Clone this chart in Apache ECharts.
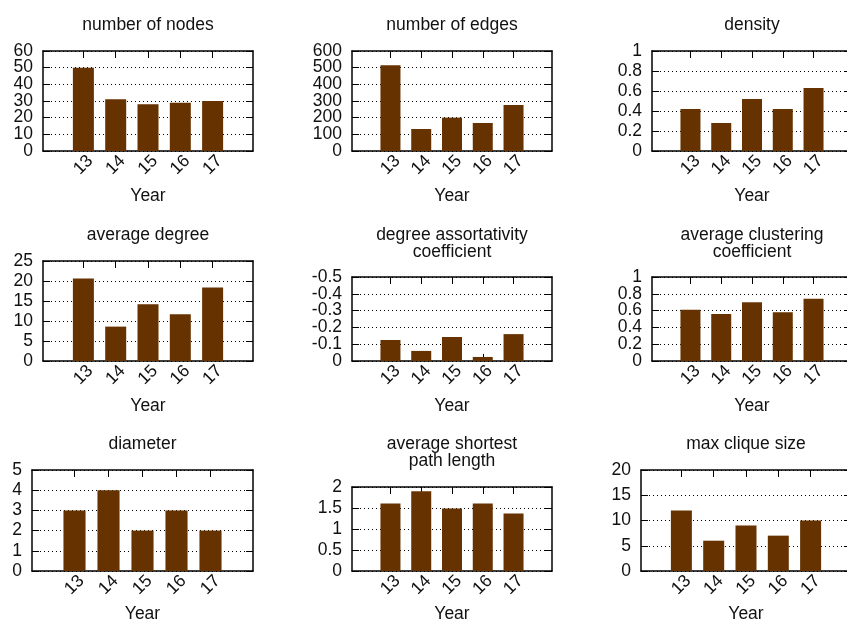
<!DOCTYPE html>
<html>
<head>
<meta charset="utf-8">
<script src="https://cdn.jsdelivr.net/npm/echarts@6/dist/echarts.min.js"></script>
<style>
  html, body { margin: 0; padding: 0; background: #fff; }
  #chart { width: 847px; height: 622px; }
</style>
</head>
<body>
<div id="chart"></div>
<script>
// Network statistics per year
const years = [13, 14, 15, 16, 17];
const nodeCount = [50, 31, 28, 29, 30];
const edgeCount = [514, 132, 200, 168, 276];
const density = [0.42, 0.28, 0.52, 0.42, 0.63];
const averageDegree = [20.6, 8.6, 14.2, 11.7, 18.4];
const assortativity = [-0.125, -0.06, -0.143, -0.024, -0.16];
const clustering = [0.61, 0.56, 0.70, 0.58, 0.74];
const diameter = [3, 4, 2, 3, 2];
const shortestPath = [1.61, 1.90, 1.49, 1.61, 1.37];
const cliqueSize = [12, 6, 9, 7, 10];

// Axis ranges per panel: [min, max, step]
const yRanges = {
  nodes: [0, 60, 10],
  edges: [0, 600, 100],
  density: [0, 1, 0.2],
  degree: [0, 25, 5],
  assort: [-0.5, 0, 0.1],
  clustering: [0, 1, 0.2],
  diameter: [0, 5, 1],
  path: [0, 2, 0.5],
  clique: [0, 20, 5]
};

const FONT = '"Liberation Sans", Arial, Helvetica, sans-serif';
const FS = 17.5;
const TEXT = '#111';
const BAR = '#663300';

// Panel layout: [left, top, width, height] of each plot box, title top, axis-name gap
const panels = [
  { title: 'number of nodes', values: nodeCount, range: yRanges.nodes, box: [43, 51, 210, 100], titleTop: 16.5, nameGap: 37 },
  { title: 'number of edges', values: edgeCount, range: yRanges.edges, box: [352, 51, 200, 100], titleTop: 16.5, nameGap: 37 },
  { title: 'density', values: density, range: yRanges.density, box: [652, 51, 200, 100], titleTop: 16.5, nameGap: 37 },
  { title: 'average degree', values: averageDegree, range: yRanges.degree, box: [43, 261, 210, 100], titleTop: 226.5, nameGap: 37 },
  { title: 'degree assortativity\ncoefficient', values: assortativity, range: yRanges.assort, box: [352, 277, 200, 84], titleTop: 226.5, nameGap: 37, inverse: true },
  { title: 'average clustering\ncoefficient', values: clustering, range: yRanges.clustering, box: [652, 277, 200, 84], titleTop: 226.5, nameGap: 37 },
  { title: 'diameter', values: diameter, range: yRanges.diameter, box: [32, 470, 221, 101], titleTop: 435.5, nameGap: 35 },
  { title: 'average shortest\npath length', values: shortestPath, range: yRanges.path, box: [352, 487, 200, 84], titleTop: 435.5, nameGap: 35 },
  { title: 'max clique size', values: cliqueSize, range: yRanges.clique, box: [641, 470, 210, 101], titleTop: 435.5, nameGap: 35 }
];

const option = {
  animation: false,
  backgroundColor: '#fff',
  textStyle: { fontFamily: FONT },
  title: [], grid: [], xAxis: [], yAxis: [], series: []
};

const axisLine = { show: true, onZero: false, lineStyle: { color: '#000', width: 1.5 } };
const tickStyle = { color: '#000', width: 1 };
const yLabelStyle = { margin: 10, fontFamily: FONT, fontSize: FS, color: TEXT, hideOverlap: false };

panels.forEach((p, i) => {
  const [l, t, w, h] = p.box;
  const [yMin, yMax, yStep] = p.range;

  // Tick values, split into alternating sets so that tightly packed
  // labels are each laid out on their own axis and none gets dropped.
  const ticks = [];
  for (let k = 0; yMin + k * yStep <= yMax + 1e-9; k++) ticks.push(Number((yMin + k * yStep).toFixed(6)));
  const labelsA = ticks.filter((_, k) => k % 2 === 0);
  const labelsB = ticks.filter((_, k) => k % 2 === 1);

  option.grid.push({ left: l, top: t, width: w, height: h, containLabel: false, outerBoundsMode: 'none' });

  option.title.push({
    text: p.title,
    left: l + w / 2,
    top: p.titleTop,
    textAlign: 'center',
    padding: 0,
    textStyle: { fontFamily: FONT, fontSize: FS, fontWeight: 'normal', color: TEXT, lineHeight: 17 }
  });

  const xCommon = {
    type: 'value', gridIndex: i, min: 11.75, max: 18.25,
    axisLine: axisLine,
    splitLine: { show: false },
    axisTick: { show: true, inside: true, length: 7, customValues: years, lineStyle: tickStyle }
  };
  option.xAxis.push(Object.assign({}, xCommon, {
    position: 'bottom',
    name: 'Year', nameLocation: 'middle', nameGap: p.nameGap,
    nameMoveOverlap: false,
    nameTextStyle: { fontFamily: FONT, fontSize: FS, color: TEXT, lineHeight: 17 },
    axisLabel: {
      customValues: years, rotate: 45, align: 'center', verticalAlign: 'middle',
      margin: 14, fontFamily: FONT, fontSize: FS, color: TEXT, hideOverlap: false
    }
  }));
  option.xAxis.push(Object.assign({}, xCommon, { position: 'top', axisLabel: { show: false } }));

  const yCommon = {
    type: 'value', gridIndex: i, min: yMin, max: yMax, interval: yStep,
    inverse: !!p.inverse
  };
  // left frame axis: line, ticks, dotted grid and every other label
  option.yAxis.push(Object.assign({}, yCommon, {
    position: 'left',
    axisLine: axisLine,
    axisTick: { show: true, inside: true, length: 7, lineStyle: tickStyle },
    axisLabel: Object.assign({ customValues: labelsA, showMinLabel: true, showMaxLabel: true }, yLabelStyle),
    splitLine: { show: true, lineStyle: { color: '#000', width: 1, type: [1, 3] } }
  }));
  // right frame axis: line and mirrored ticks
  option.yAxis.push(Object.assign({}, yCommon, {
    position: 'right',
    axisLine: axisLine,
    axisTick: { show: true, inside: true, length: 7, lineStyle: tickStyle },
    axisLabel: { show: false },
    splitLine: { show: false }
  }));
  // remaining labels on the left
  option.yAxis.push(Object.assign({}, yCommon, {
    position: 'left',
    axisLine: { show: false },
    axisTick: { show: false },
    axisLabel: Object.assign({ customValues: labelsB, showMinLabel: true, showMaxLabel: true }, yLabelStyle),
    splitLine: { show: false }
  }));

  option.series.push({
    type: 'bar',
    xAxisIndex: 2 * i,
    yAxisIndex: 3 * i,
    data: years.map((yr, k) => [yr, p.values[k]]),
    barWidth: w / 10,
    itemStyle: { color: BAR },
    silent: true
  });
});

const chart = echarts.init(document.getElementById('chart'), null, { renderer: 'canvas' });
chart.setOption(option);
</script>
</body>
</html>
